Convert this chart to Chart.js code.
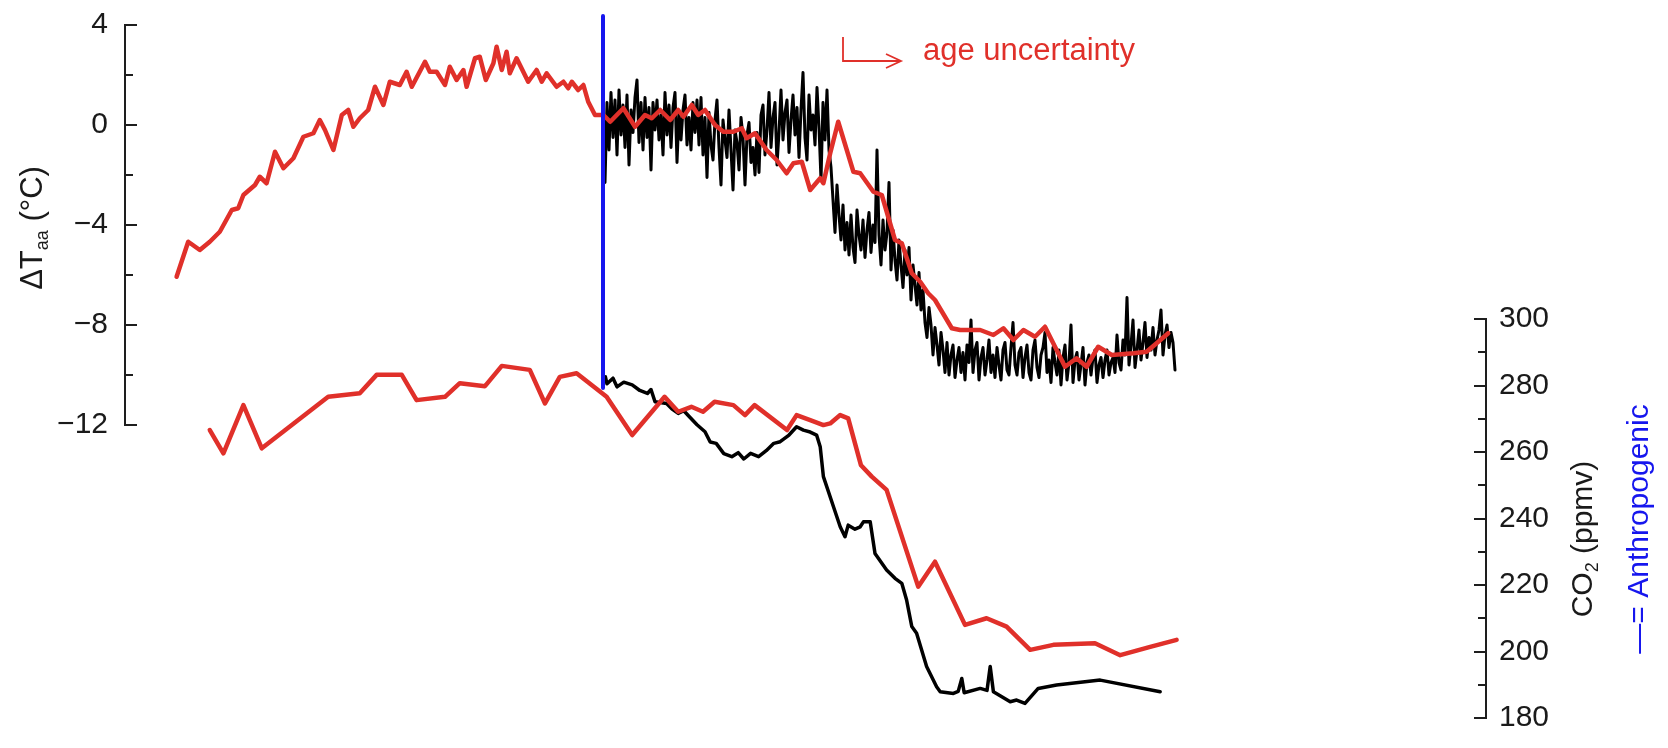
<!DOCTYPE html>
<html>
<head>
<meta charset="utf-8">
<script src="https://cdn.jsdelivr.net/npm/chart.js@4.4.1/dist/chart.umd.min.js"></script>
<style>
  html, body { margin: 0; padding: 0; background: #fff; }
</style>
</head>
<body>
<canvas id="mycanvas" width="1668" height="748"></canvas>
<script>
// ---- data (age in kyr, 0 = anthropogenic marker) ----

// reconstructed Antarctic temperature, red (left axis, °C)
var tempAge = [-10.66,-10.37,-10.08,-9.83,-9.58,-9.28,-9.12,-8.99,-8.7,-8.58,-8.41,-8.2,-7.99,-7.74,-7.49,-7.24,-7.08,-6.95,-6.74,-6.53,
  -6.37,-6.24,-6.08,-5.87,-5.7,-5.49,-5.33,-5.08,-4.91,-4.78,-4.45,-4.33,-4.16,-3.95,-3.83,-3.66,-3.49,-3.41,-3.2,-3.08,
  -2.93,-2.74,-2.66,-2.53,-2.41,-2.33,-2.16,-1.87,-1.66,-1.53,-1.41,-1.16,-0.99,-0.87,-0.78,-0.62,-0.49,-0.37,-0.2,0.01,
  0.18,0.51,0.8,1.05,1.22,1.43,1.68,1.88,2.01,2.22,2.38,2.55,2.8,3.01,3.26,3.47,3.59,3.8,4.09,4.34,
  4.59,4.76,4.97,5.18,5.43,5.51,5.68,5.88,6.26,6.43,6.76,6.97,7.3,7.47,7.72,7.93,8.13,8.3,8.72,8.93,
  9.43,9.76,10.01,10.26,10.51,10.8,11.05,11.3,11.55,11.84,12.09,12.38,12.72,13.26,13.59,13.84,14.13];
var tempRed = [-6.07,-4.67,-5.0,-4.67,-4.27,-3.4,-3.33,-2.8,-2.4,-2.07,-2.33,-1.07,-1.73,-1.33,-0.47,-0.33,0.2,-0.2,-1.0,0.4,
  0.6,-0.07,0.27,0.6,1.53,0.8,1.73,1.6,2.13,1.53,2.53,2.13,2.13,1.6,2.33,1.8,2.2,1.53,2.67,2.73,
  1.8,2.47,3.13,2.2,2.93,2.07,2.67,1.73,2.2,1.73,2.07,1.53,1.73,1.47,1.73,1.4,1.6,0.93,0.4,0.4,
  0.13,0.67,-0.07,0.4,0.27,0.6,0.2,0.6,0.33,0.8,0.4,0.6,0.0,-0.27,-0.27,-0.13,-0.53,-0.33,-1.0,-1.4,
  -1.93,-1.53,-1.47,-2.6,-2.13,-2.33,-1.13,0.13,-1.87,-1.93,-2.67,-2.8,-4.6,-4.73,-5.93,-6.27,-6.73,-7.0,-8.13,-8.2,
  -8.2,-8.4,-8.13,-8.6,-8.2,-8.47,-8.07,-8.87,-9.67,-9.33,-9.67,-8.87,-9.2,-9.13,-9.07,-8.73,-8.33];

// ice-core temperature, black, sampled every 0.05 kyr from age 0
var coreStart = 0;
var coreStep = 0.05;
var tempBlack = [
  1.2,-2.3,0.9,-1.0,1.3,-0.5,1.0,-1.2,1.4,-0.4,0.8,-0.9,1.2,-1.6,0.6,-0.3,1.1,1.8,-0.7,0.9,-1.0,1.1,-0.5,0.7,-1.8,
  0.9,-0.2,1.0,-0.6,0.4,-1.2,1.3,-0.4,0.8,-0.9,0.7,1.3,-1.5,0.5,-0.6,0.6,1.2,-0.8,0.3,-1.0,0.9,-0.3,1.0,-0.8,
  1.1,-1.2,0.3,-2.1,0.5,-0.8,-1.4,0.2,1.0,-0.9,-2.4,0.2,-0.6,-1.3,0.6,-1.0,-2.6,-0.2,-0.7,-1.8,0.3,-0.5,-2.4,-0.4,
  0.1,-1.5,-0.9,-2.0,-0.3,
  -1.9,0.4,0.8,-1.2,-0.2,1.3,-0.9,0.3,0.9,-1.6,-0.3,1.4,-0.6,0.5,1.0,-1.1,0.2,1.2,-0.4,0.7,-1.3,0.6,2.1,-0.5,
  -1.4,1.2,-0.2,0.4,-0.8,1.5,-0.1,-2.2,0.9,-0.6,1.4,-1.0,
  -1.7,-3.0,-4.3,-2.4,-3.6,-4.6,-3.2,-5.0,-3.9,-5.2,
  -3.6,-4.9,-5.5,-3.4,-4.4,-5.0,-3.8,-5.3,-4.2,-3.5,-5.1,-4.0,-4.7,-1.0,-4.4,
  -5.6,-3.8,-5.0,-4.3,-2.3,-5.8,-4.2,-5.4,-6.2,-4.6,-5.6,-6.5,-5.0,-6.0,-4.9,-7.0,-5.6,-6.4,-7.2,-5.9,
  -7.4,-6.6,-7.9,-8.5,-7.3,-8.0,-9.2,-8.1,-8.8,-9.6,-8.3,-9.0,-9.9,
  -8.7,-10.0,-9.2,-8.8,-10.1,-9.4,-8.9,-9.9,-9.1,-10.2,-8.8,-9.5,-7.8,-9.9,-9.0,-8.7,-10.2,-9.3,-8.9,-10.0,
  -9.4,-8.6,-9.9,-9.2,-10.1,-8.9,-9.6,-10.2,-9.0,-8.7,-9.8,-10.0,-8.9,-7.9,-9.6,-10.0,-9.1,-8.9,-10.1,-9.3,
  -8.8,-9.9,-10.2,-9.0,-8.6,-9.7,-10.1,-9.2,-8.9,-8.3,-9.9,-9.4,-10.3,-8.9,-9.5,-10.0,-9.0,-10.4,-9.3,-8.8,
  -10.2,-9.5,-8.0,-10.3,-9.4,-9.1,-10.2,-9.6,-8.9,-10.4,-9.5,-9.2,-10.0,-9.3,-9.0,-10.3,-9.6,-9.3,-10.1,-9.4,
  -9.0,-10.0,-9.5,-9.3,
  -9.9,-8.4,-9.5,-9.8,-8.6,-9.2,-6.9,-9.6,-8.8,-7.8,-9.7,-9.0,-8.2,-9.4,-8.7,-7.9,-9.3,-8.5,-9.0,-8.1,
  -9.2,-8.6,-8.2,-7.4,-9.2,-8.4,-8.0,-8.9,-8.3,-8.7,-9.8];

// CO2, red (right axis, ppmv)
var co2RedAge = [-9.83,-9.49,-8.99,-8.53,-6.87,-6.08,-5.66,-5.03,-4.66,-3.95,-3.58,-2.95,-2.53,-1.83,-1.45,-1.08,-0.66,0.09,0.73,1.54,
  1.88,2.21,2.5,2.79,3.26,3.55,3.79,4.6,4.84,5.18,5.51,5.68,5.93,6.13,6.45,6.72,7.09,7.88,8.3,9.05,
  9.59,10.09,10.68,11.26,12.3,12.93,13.68,14.34];
var co2Red = [266.6,259.6,274.1,261.1,276.6,277.7,283.2,283.2,275.6,276.6,280.7,279.8,285.9,284.7,274.6,282.6,283.7,276.6,265.1,276.6,
  272.1,273.6,272.1,275.1,274.1,271.1,274.1,266.6,271.1,269.6,268.1,268.6,271.1,270.1,256.0,252.6,248.6,219.5,227.0,208.0,
  210.0,207.5,200.5,202.0,202.5,198.9,201.4,203.5];

// CO2, black (right axis, ppmv)
var co2BlackAge = [0.06,0.1,0.25,0.35,0.52,0.73,0.92,1.11,1.2,1.3,1.59,1.72,1.88,2.02,2.16,2.35,2.55,2.68,2.83,3.02,
  3.22,3.38,3.52,3.69,3.89,4.08,4.27,4.43,4.65,4.84,5.01,5.18,5.34,5.43,5.51,5.76,5.93,6.05,6.13,6.3,
  6.43,6.51,6.68,6.8,7.09,7.3,7.47,7.59,7.72,7.84,8.09,8.34,8.43,8.76,8.88,8.97,9.03,9.43,9.6,9.68,
  9.76,10.18,10.34,10.55,10.88,11.34,12.43,13.93];
var co2Black = [282.6,280.5,282.2,279.6,281.0,280.2,278.5,277.6,278.8,275.1,274.6,273.0,271.6,272.4,270.6,268.2,266.1,263.0,262.6,259.5,
  258.6,259.8,257.9,259.6,258.6,260.4,262.6,263.1,265.1,267.6,266.6,266.0,265.1,261.6,252.6,243.6,237.5,234.5,238.0,236.8,
  237.5,239.0,239.0,229.5,224.5,222.0,220.5,215.5,207.5,205.5,195.5,189.4,187.9,187.4,188.0,191.9,187.6,188.9,188.3,195.5,
  187.9,184.9,185.4,184.4,188.9,189.9,191.4,187.9];

// anthropogenic marker (blue vertical line, left axis units)
var anthroAge = [0, 0];
var anthroTemp = [4.36, -10.52];

// axes
var tempTicks = [4, 2, 0, -2, -4, -6, -8, -10, -12];
var tempLabels = ['4', '', '0', '', '\u22124', '', '\u22128', '', '\u221212'];
var co2Ticks = [300, 290, 280, 270, 260, 250, 240, 230, 220, 210, 200, 190, 180];
var co2Labels = ['300', '', '280', '', '260', '', '240', '', '220', '', '200', '', '180'];

// ---- layout (pixels) ----
var AX_LEFT = 125, AX_RIGHT = 1486;
var T_TOP = 25, T_BOTTOM = 425;      // where 4 and -12 sit
var C_TOP = 319, C_BOTTOM = 718;     // where 300 and 180 sit
var AGE_PX = 40;                     // px per kyr
var AGE_ZERO_PX = 603;

var RED = '#e0302a';
var BLUE = '#1616ee';
var FONT = '"Liberation Sans", Arial, Helvetica, sans-serif';

function pairs(xs, ys) {
  var out = [];
  for (var i = 0; i < Math.min(xs.length, ys.length); i++) out.push({x: xs[i], y: ys[i]});
  return out;
}
var coreData = [];
for (var i in tempBlack) coreData.push({x: +(coreStart + i * coreStep).toFixed(2), y: tempBlack[i]});

function fixTicks(values) {
  return function(scale) { scale.ticks = values.map(function(v){ return {value: v}; }); };
}

function drawRich(ctx, parts, cx, cy, color) {
  ctx.save();
  ctx.translate(cx, cy);
  ctx.rotate(-Math.PI / 2);
  ctx.fillStyle = color;
  ctx.textBaseline = 'alphabetic';
  var total = 0;
  parts.forEach(function(p){ ctx.font = p.size + 'px ' + FONT; p.w = ctx.measureText(p.text).width; total += p.w; });
  var x = -total / 2;
  parts.forEach(function(p){
    ctx.font = p.size + 'px ' + FONT;
    ctx.fillText(p.text, x, 10 + (p.dy || 0));
    x += p.w;
  });
  ctx.restore();
}

var frame = {
  id: 'frame',
  afterDatasetsDraw: function(chart) {
    var ctx = chart.ctx, y = chart.scales.y, y2 = chart.scales.y2;
    ctx.save();
    ctx.strokeStyle = '#1e1e1e';
    ctx.lineWidth = 2;
    ctx.lineCap = 'butt';
    // left axis, ticks pointing in
    var lx = Math.round(y.right);
    ctx.beginPath();
    ctx.moveTo(lx, y.getPixelForValue(4) - 1);
    ctx.lineTo(lx, y.getPixelForValue(-12) + 1);
    tempTicks.forEach(function(v, i){
      var py = Math.round(y.getPixelForValue(v));
      ctx.moveTo(lx, py); ctx.lineTo(lx + (tempLabels[i] ? 12 : 8), py);
    });
    // right axis
    var rx = Math.round(y2.left);
    ctx.moveTo(rx, y2.getPixelForValue(300) - 1);
    ctx.lineTo(rx, y2.getPixelForValue(180) + 1);
    co2Ticks.forEach(function(v, i){
      var py = Math.round(y2.getPixelForValue(v));
      ctx.moveTo(rx, py); ctx.lineTo(rx - (co2Labels[i] ? 12 : 8), py);
    });
    ctx.stroke();

    // axis titles
    drawRich(ctx, [{text: '\u0394T', size: 31}, {text: 'aa', size: 18, dy: 6}, {text: ' (\u00b0C)', size: 31}], 32, 228, '#1a1a1a');
    drawRich(ctx, [{text: 'CO', size: 30}, {text: '2', size: 18, dy: 6}, {text: ' (ppmv)', size: 30}], 1582, 539, '#1a1a1a');
    drawRich(ctx, [{text: '\u2014= Anthropogenic', size: 30}], 1638, 529, BLUE);

    // age uncertainty note
    ctx.strokeStyle = RED;
    ctx.lineWidth = 1.8;
    ctx.beginPath();
    ctx.moveTo(843, 37); ctx.lineTo(843, 61); ctx.lineTo(901, 61);
    ctx.moveTo(886, 54); ctx.lineTo(901, 61); ctx.lineTo(886, 68);
    ctx.stroke();
    ctx.fillStyle = RED;
    ctx.font = '31px ' + FONT;
    ctx.textAlign = 'left';
    ctx.textBaseline = 'middle';
    ctx.fillText('age uncertainty', 923, 51);
    ctx.restore();
  }
};

var ctx = document.getElementById('mycanvas');

var LineGraph = new Chart(ctx, {
  type: 'line',
  data: {
    datasets: [
      {
        label: 'Anthropogenic',
        data: pairs(anthroAge, anthroTemp),
        yAxisID: 'y',
        borderColor: BLUE,
        borderWidth: 4,
        order: 0
      },
      {
        label: 'Temperature (red)',
        data: pairs(tempAge, tempRed),
        yAxisID: 'y',
        borderColor: RED,
        borderWidth: 4.5,
        order: 1
      },
      {
        label: 'CO2 (red)',
        data: pairs(co2RedAge, co2Red),
        yAxisID: 'y2',
        borderColor: RED,
        borderWidth: 4.5,
        order: 2
      },
      {
        label: 'Temperature (ice core)',
        data: coreData,
        yAxisID: 'y',
        borderColor: '#000',
        borderWidth: 3,
        order: 3
      },
      {
        label: 'CO2 (ice core)',
        data: pairs(co2BlackAge, co2Black),
        yAxisID: 'y2',
        borderColor: '#000',
        borderWidth: 3.5,
        order: 4
      }
    ]
  },
  options: {
    responsive: false,
    animation: false,
    devicePixelRatio: 1,
    layout: { padding: 0 },
    elements: {
      point: { radius: 0, hoverRadius: 0 },
      line: { tension: 0, fill: false, borderJoinStyle: 'round', borderCapStyle: 'round' }
    },
    datasets: { line: { clip: false } },
    plugins: { legend: { display: false }, tooltip: { enabled: false } },
    scales: {
      x: {
        type: 'linear',
        display: false,
        min: (AX_LEFT - AGE_ZERO_PX) / AGE_PX,
        max: (AX_RIGHT - AGE_ZERO_PX) / AGE_PX
      },
      y: {
        position: 'left',
        min: -24, max: 4.4,
        afterBuildTicks: fixTicks(tempTicks),
        afterFit: function(s){ s.width = AX_LEFT; },
        grid: { display: false, drawTicks: false },
        border: { display: false },
        ticks: {
          autoSkip: false,
          padding: 17,
          color: '#1a1a1a',
          font: { family: FONT, size: 30 },
          callback: function(v){ return tempLabels[tempTicks.indexOf(v)] || ''; }
        }
      },
      y2: {
        position: 'right',
        min: 175, max: 300.5,
        afterBuildTicks: fixTicks(co2Ticks),
        afterFit: function(s){ s.width = 1668 - AX_RIGHT; },
        grid: { display: false, drawTicks: false },
        border: { display: false },
        ticks: {
          autoSkip: false,
          padding: 13,
          color: '#1a1a1a',
          font: { family: FONT, size: 30 },
          callback: function(v){ return co2Labels[co2Ticks.indexOf(v)] || ''; }
        }
      }
    }
  },
  plugins: [frame]
});

// second pass: pin the two y scales so their labelled ranges land where the figure has them
var area = LineGraph.chartArea;
var tPerPx = 16 / (T_BOTTOM - T_TOP);
var cPerPx = 120 / (C_BOTTOM - C_TOP);
LineGraph.options.scales.y.max = 4 + (T_TOP - area.top) * tPerPx;
LineGraph.options.scales.y.min = -12 - (area.bottom - T_BOTTOM) * tPerPx;
LineGraph.options.scales.y2.max = 300 + (C_TOP - area.top) * cPerPx;
LineGraph.options.scales.y2.min = 180 - (area.bottom - C_BOTTOM) * cPerPx;
LineGraph.update('none');
</script>
</body>
</html>
